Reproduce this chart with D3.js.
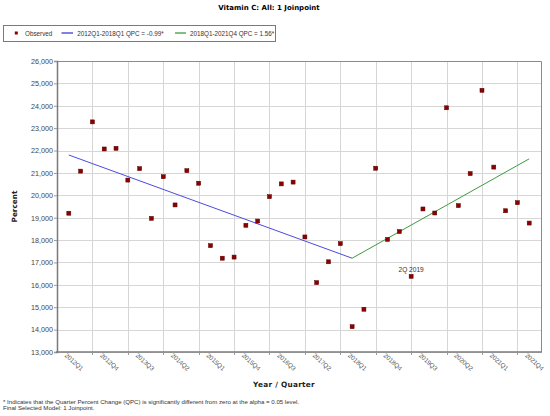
<!DOCTYPE html>
<html>
<head>
<meta charset="utf-8">
<script src="https://cdn.jsdelivr.net/npm/d3@7"></script>
<style>
html,body{margin:0;padding:0;background:#fff;}
svg{display:block;}
</style>
</head>
<body>
<svg id="chart" width="550" height="416"></svg>
<script>
// ---- data ----
const quarterLabels = [
  "2012Q1","2012Q2","2012Q3","2012Q4","2013Q1","2013Q2","2013Q3","2013Q4",
  "2014Q1","2014Q2","2014Q3","2014Q4","2015Q1","2015Q2","2015Q3","2015Q4",
  "2016Q1","2016Q2","2016Q3","2016Q4","2017Q1","2017Q2","2017Q3","2017Q4",
  "2018Q1","2018Q2","2018Q3","2018Q4","2019Q1","2019Q2","2019Q3","2019Q4",
  "2020Q1","2020Q2","2020Q3","2020Q4","2021Q1","2021Q2","2021Q3","2021Q4"
];
const observed = [
  19200, 21080, 23280, 22070, 22100, 20680, 21190, 18970,
  20830, 19570, 21100, 20540, 17750, 17190, 17240, 18660,
  18850, 19940, 20510, 20590, 18140, 16100, 17030, 17840,
  14130, 14910, 21210, 18030, 18380, 16380, 19390, 19210,
  23910, 19540, 20970, 24690, 21260, 19310, 19670, 18760
];
const xTickLabels = ["2012Q1","2012Q4","2013Q3","2014Q2","2015Q1","2015Q4","2016Q3",
  "2017Q2","2018Q1","2018Q4","2019Q3","2020Q2","2021Q1","2021Q4"];
const xGridLabels = ["2012Q3","2013Q2","2014Q1","2014Q4","2015Q3","2016Q2","2017Q1",
  "2017Q4","2018Q3","2019Q2","2020Q1","2020Q4","2021Q3"];
const yTicks = [13000,14000,15000,16000,17000,18000,19000,20000,21000,22000,23000,24000,25000,26000];
const segment1 = [{q:"2012Q1", v:21800}, {q:"2018Q1", v:17190}];
const segment2 = [{q:"2018Q1", v:17190}, {q:"2021Q4", v:21630}];
const legendLabels = ["Observed", "2012Q1-2018Q1 QPC = -0.99*", "2018Q1-2021Q4 QPC = 1.56*"];
const annotation = {q:"2019Q2", text:"2Q 2019"};
const title = "Vitamin C: All: 1 Joinpoint";
const xTitle = "Year / Quarter";
const yTitle = "Percent";
const footnotes = [
  "* Indicates that the Quarter Percent Change (QPC) is significantly different from zero at the alpha = 0.05 level.",
  "Final Selected Model: 1 Joinpoint."
];

// ---- layout ----
const svg = d3.select("#chart");
const L = 57, R = 541, T = 61, B = 352;
const idx = q => quarterLabels.indexOf(q);
const x = d3.scaleLinear().domain([-1, 40]).range([L, R]);
const y = d3.scaleLinear().domain([13000, 26000]).range([B, T]);
const tickFont = "'Liberation Sans', Arial, sans-serif";
const boldFont = "'DejaVu Sans', Verdana, sans-serif";

// title
svg.append("text").attr("x", 269).attr("y", 10).attr("text-anchor", "middle")
  .attr("font-family", boldFont).attr("font-weight", "bold").attr("font-size", 7)
  .attr("fill", "#000").text(title);

// legend
const lg = svg.append("g");
lg.append("rect").attr("x", 3.5).attr("y", 25.5).attr("width", 272).attr("height", 16)
  .attr("fill", "#fff").attr("stroke", "#7a7a7a").attr("stroke-width", 1);
lg.append("rect").attr("x", 14.8).attr("y", 31.5).attr("width", 3).attr("height", 3).attr("fill", "#8b0000");
lg.append("text").attr("x", 25).attr("y", 35.6).attr("font-family", tickFont).attr("font-size", 6.3)
  .attr("fill", "#333").text(legendLabels[0]);
lg.append("line").attr("x1", 61.5).attr("x2", 73).attr("y1", 33).attr("y2", 33)
  .attr("stroke", "#0000cc").attr("stroke-width", 1);
lg.append("text").attr("x", 77.3).attr("y", 35.6).attr("font-family", tickFont).attr("font-size", 6.3)
  .attr("fill", "#333").text(legendLabels[1]);
lg.append("line").attr("x1", 175).attr("x2", 186).attr("y1", 33).attr("y2", 33)
  .attr("stroke", "#008000").attr("stroke-width", 1);
lg.append("text").attr("x", 190).attr("y", 35.6).attr("font-family", tickFont).attr("font-size", 6.3)
  .attr("fill", "#333").text(legendLabels[2]);

// gridlines
const grid = svg.append("g");
grid.selectAll("line.h").data(yTicks).join("line").attr("class", "h")
  .attr("x1", L).attr("x2", R).attr("y1", d => Math.round(y(d)) + 0.5).attr("y2", d => Math.round(y(d)) + 0.5)
  .attr("stroke", "#d6d6d6").attr("stroke-width", 1);
grid.selectAll("line.v").data(xGridLabels).join("line").attr("class", "v")
  .attr("y1", T).attr("y2", B).attr("x1", d => Math.round(x(idx(d))) + 0.5).attr("x2", d => Math.round(x(idx(d))) + 0.5)
  .attr("stroke", "#d6d6d6").attr("stroke-width", 1);

// border top/right
svg.append("path").attr("d", `M${L},${T + 0.5}H${R + 0.5}V${B}`).attr("fill", "none")
  .attr("stroke", "#8a8a8a").attr("stroke-width", 1);

// y axis
const yAxis = d3.axisLeft(y).tickValues(yTicks).tickSize(3).tickPadding(1)
  .tickFormat(d3.format(","));
const ya = svg.append("g").attr("transform", `translate(${L},0)`).call(yAxis);
ya.select(".domain").attr("stroke", "#7a7a7a").attr("stroke-width", 1.5);
ya.selectAll(".tick line").attr("stroke", "#9a9a9a");
ya.selectAll(".tick text").attr("font-family", tickFont).attr("font-size", 7.2).attr("fill", "#444");

// x axis
svg.append("line").attr("x1", L - 1).attr("x2", R + 1).attr("y1", B).attr("y2", B)
  .attr("stroke", "#7a7a7a").attr("stroke-width", 1.5);
svg.append("g").selectAll("line").data(xGridLabels).join("line")
  .attr("x1", d => Math.round(x(idx(d))) + 0.5).attr("x2", d => Math.round(x(idx(d))) + 0.5)
  .attr("y1", B).attr("y2", B + 3).attr("stroke", "#9a9a9a");
svg.append("g").selectAll("text").data(xTickLabels).join("text")
  .attr("transform", d => `translate(${x(idx(d)) - 4.5},${B + 4}) rotate(42)`)
  .attr("text-anchor", "start").attr("font-family", tickFont).attr("font-size", 6.3)
  .attr("fill", "#555").text(d => d);

// axis titles
svg.append("text").attr("x", 284).attr("y", 387).attr("text-anchor", "middle")
  .attr("font-family", boldFont).attr("font-weight", "bold").attr("font-size", 7.3)
  .attr("letter-spacing", 0.3).attr("fill", "#222").text(xTitle);
svg.append("text").attr("transform", "translate(16.5,206.5) rotate(-90)").attr("text-anchor", "middle")
  .attr("font-family", boldFont).attr("font-weight", "bold").attr("font-size", 7.3)
  .attr("fill", "#222").text(yTitle);

// joinpoint lines
const line = d3.line().x(d => x(idx(d.q))).y(d => y(d.v));
svg.append("path").datum(segment1).attr("d", line).attr("fill", "none")
  .attr("stroke", "#4a4ae0").attr("stroke-width", 1);
svg.append("path").datum(segment2).attr("d", line).attr("fill", "none")
  .attr("stroke", "#3f9a3f").attr("stroke-width", 1);

// observed points
svg.append("g").selectAll("rect").data(observed).join("rect")
  .attr("x", (d, i) => x(i) - 2).attr("y", d => y(d) - 2)
  .attr("width", 4).attr("height", 4).attr("fill", "#8b0000").attr("stroke", "#5a0000").attr("stroke-width", 0.5);

// annotation
svg.append("text").attr("x", x(idx(annotation.q))).attr("y", 271.5).attr("text-anchor", "middle")
  .attr("font-family", tickFont).attr("font-size", 6.6).attr("fill", "#333").text(annotation.text);

// footnotes
svg.append("g").selectAll("text").data(footnotes).join("text")
  .attr("x", 3).attr("y", (d, i) => 404 + i * 6.2)
  .attr("font-family", tickFont).attr("font-size", 6.1).attr("fill", "#333").text(d => d);
</script>
</body>
</html>
